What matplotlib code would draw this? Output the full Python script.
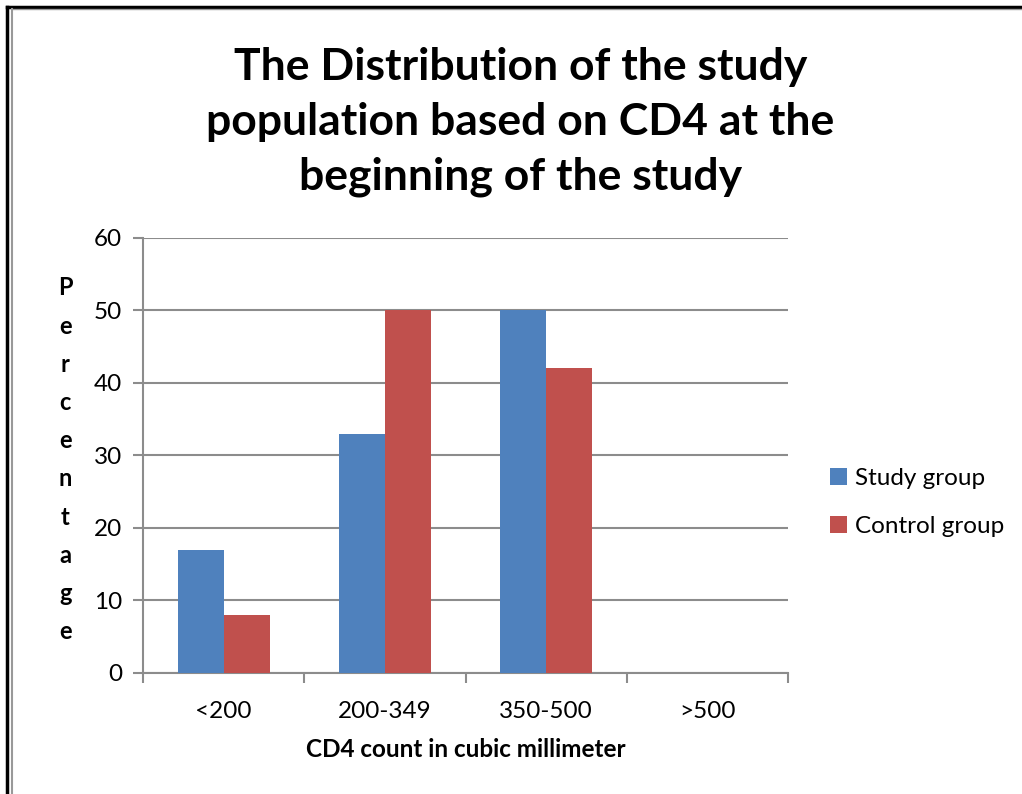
import matplotlib.pyplot as plt
import numpy as np
from matplotlib.lines import Line2D

categories = ['<200', '200-349', '350-500', '>500']
study_group = [17, 33, 50, 0]
control_group = [8, 50, 42, 0]
y_ticks = [0, 10, 20, 30, 40, 50, 60]

plt.rcParams['font.family'] = ['Lato', 'DejaVu Sans']

fig = plt.figure(figsize=(10.22, 7.94), dpi=100)
ax = fig.add_axes([0.140, 0.1524, 0.631, 0.5479])

x = np.arange(len(categories))
w = 1 / 3.5
ax.bar(x - w / 2, study_group, w, color='#4F81BD', label='Study group', zorder=3)
ax.bar(x + w / 2, control_group, w, color='#C0504D', label='Control group', zorder=3)

ax.set_xlim(-0.5, len(categories) - 0.5)
ax.set_ylim(0, 60)
ax.set_yticks(y_ticks)
ax.set_xticks(x)
ax.set_xticklabels(categories)
ax.set_xticks(np.arange(-0.5, len(categories)), minor=True)
ax.tick_params(axis='x', which='major', length=0, pad=20, labelsize=17.5)
ax.tick_params(axis='x', which='minor', length=7, width=1.5, color='#8c8c8c')
ax.tick_params(axis='y', length=7, width=1.5, color='#8c8c8c', pad=8, labelsize=17.5)
ax.yaxis.grid(True, color='#8c8c8c', linewidth=1.5, zorder=0)

for s in ['top', 'right']:
    ax.spines[s].set_visible(False)
ax.spines['left'].set_color('#8c8c8c')
ax.spines['left'].set_linewidth(1.5)
ax.spines['bottom'].set_color('#8c8c8c')
ax.spines['bottom'].set_linewidth(1.5)

ax.set_xlabel('CD4 count in cubic millimeter', fontsize=17.5, fontweight='bold', labelpad=12)

fig.text(0.064, 0.421, '\n'.join('Percentage'), fontsize=17, fontweight='bold',
         ha='center', va='center', linespacing=1.80)

fig.text(0.509, 0.846, 'The Distribution of the study\npopulation based on CD4 at the\nbeginning of the study',
         fontsize=32, fontweight='bold', ha='center', va='center', linespacing=1.45)

ax.legend(loc='center left', bbox_to_anchor=(1.031, 0.392), frameon=False, fontsize=17.5,
          handlelength=0.7, handleheight=0.7, handletextpad=0.35, labelspacing=1.1)

# page frame
W, H = 1022, 794
fig.add_artist(Line2D([7 / W, 7 / W], [0, 1 - 7 / H], color='black', linewidth=2.5, transform=fig.transFigure))
fig.add_artist(Line2D([7 / W, 1], [1 - 7 / H, 1 - 7 / H], color='black', linewidth=2.5, transform=fig.transFigure))
fig.add_artist(Line2D([11.5 / W, 11.5 / W], [0, 1 - 9 / H], color='#999999', linewidth=1.5, transform=fig.transFigure))
fig.add_artist(Line2D([11.5 / W, 1], [1 - 9 / H, 1 - 9 / H], color='#999999', linewidth=1.0, transform=fig.transFigure))

fig.savefig('out.png', dpi=100)
